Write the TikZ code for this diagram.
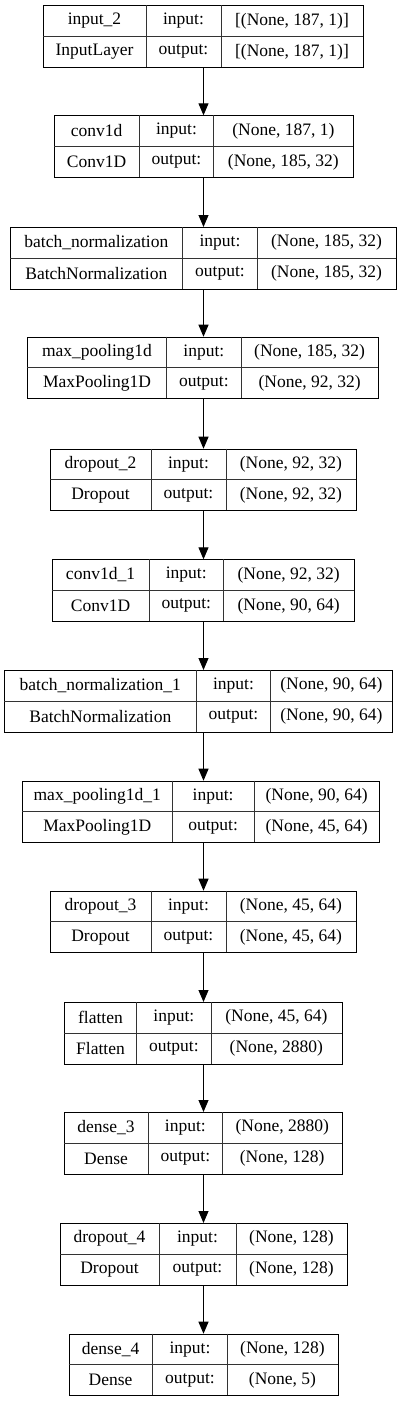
\documentclass[tikz,border=0pt]{standalone}
\usepackage{fontspec}
\setmainfont{Liberation Serif}
\usetikzlibrary{arrows.meta}
\begin{document}
\begin{tikzpicture}[x=1pt,y=-1pt,
  box/.style={draw=black,line width=1pt,inner sep=0pt,anchor=north west},
  cell/.style={font=\fontsize{17.5}{20}\selectfont,inner sep=0pt,anchor=center},
  sep/.style={draw=black!80,line width=1pt},
  arr/.style={line width=1pt,-{Triangle[length=12pt,width=10pt]}}]
\useasboundingbox (0,0) rectangle (407,1401);
\coordinate (ax) at (203.5,0);
\foreach \id/\top/\xa/\xb/\xc/\xd/\na/\cl/\si/\so in {
 L1/5.3/43/146/221/363/{input\_2}/{InputLayer}/{[(None, 187, 1)]}/{[(None, 187, 1)]},
 L2/115.3/54/139.3/213.7/353/{conv1d}/{Conv1D}/{(None, 187, 1)}/{(None, 185, 32)},
 L3/227/10/182.7/257.3/395.7/{batch\_normalization}/{BatchNormalization}/{(None, 185, 32)}/{(None, 185, 32)},
 L4/336.7/27.3/166.7/241/378.3/{max\_pooling1d}/{MaxPooling1D}/{(None, 185, 32)}/{(None, 92, 32)},
 L5/448.7/50/151/226/355.7/{dropout\_2}/{Dropout}/{(None, 92, 32)}/{(None, 92, 32)},
 L6/559.3/51.7/149.3/223.3/354/{conv1d\_1}/{Conv1D}/{(None, 92, 32)}/{(None, 90, 64)},
 L7/670/4.3/196.3/270.7/392/{batch\_normalization\_1}/{BatchNormalization}/{(None, 90, 64)}/{(None, 90, 64)},
 L8/780.7/22.3/172.3/254/379.3/{max\_pooling1d\_1}/{MaxPooling1D}/{(None, 90, 64)}/{(None, 45, 64)},
 L9/890.7/50/151/226/355.7/{dropout\_3}/{Dropout}/{(None, 45, 64)}/{(None, 45, 64)},
 L10/1002/64.3/136.7/211/341.7/{flatten}/{Flatten}/{(None, 45, 64)}/{(None, 2880)},
 L11/1112/64/148/222.7/341.7/{dense\_3}/{Dense}/{(None, 2880)}/{(None, 128)},
 L12/1223/60/159/236/347/{dropout\_4}/{Dropout}/{(None, 128)}/{(None, 128)},
 L13/1333.7/68.5/152.7/227.3/337.7/{dense\_4}/{Dense}/{(None, 128)}/{(None, 5)}}
{
  \pgfmathsetmacro{\w}{\xd-\xa}
  \node[box,minimum width=\w pt,minimum height=61.7pt] (\id) at (\xa,\top) {};
  \draw[sep] (\xb,\top) -- (\xb,\top+61.7);
  \draw[sep] (\xc,\top) -- (\xc,\top+61.7);
  \draw[sep] (\xa,\top+31) -- (\xd,\top+31);
  \node[cell] (\id-n) at ({(\xa+\xb)/2},{\top+15.7}) {\na};
  \node[cell] (\id-c) at ({(\xa+\xb)/2},{\top+46.5}) {\cl};
  \node[cell] (\id-i) at ({(\xb+\xc)/2},{\top+15.7}) {input:};
  \node[cell] (\id-o) at ({(\xb+\xc)/2},{\top+46.5}) {output:};
  \node[cell] (\id-si) at ({(\xc+\xd)/2},{\top+15.7}) {\si};
  \node[cell] (\id-so) at ({(\xc+\xd)/2},{\top+46.5}) {\so};
}
\foreach \i [evaluate=\i as \j using int(\i+1)] in {1,...,12}
  \draw[arr] (L\i.south -| ax) -- (L\j.north -| ax);
\end{tikzpicture}
\end{document}
